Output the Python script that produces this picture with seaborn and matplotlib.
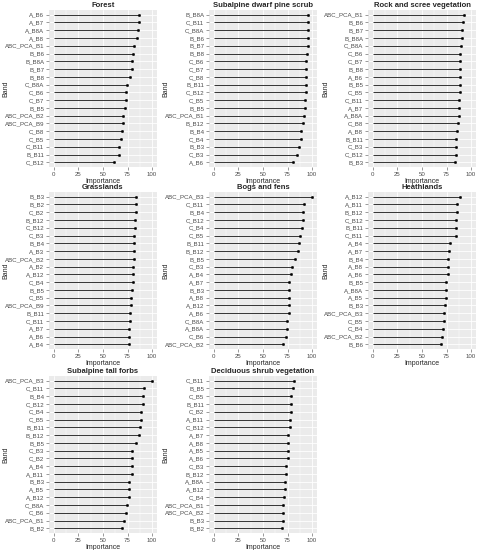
import matplotlib
matplotlib.use("Agg")
import matplotlib.pyplot as plt
import seaborn as sns
import pandas as pd
from matplotlib.ticker import MultipleLocator

titles = ["Forest", "Subalpine dwarf pine scrub", "Rock and scree vegetation",
          "Grasslands", "Bogs and fens", "Heathlands",
          "Subalpine tall forbs", "Deciduous shrub vegetation"]

forest_bands = ["A_B6", "A_B7", "A_B8A", "A_B8", "ABC_PCA_B1", "B_B6", "B_B8A", "B_B7", "B_B8", "C_B8A",
                "C_B6", "C_B7", "B_B5", "ABC_PCA_B2", "ABC_PCA_B9", "C_B8", "C_B5", "C_B11", "B_B11", "C_B12"]
forest_vals = [87, 87, 86, 85, 82, 81, 80, 79.5, 77, 74.5, 73, 73, 72, 70.5, 70.5, 69, 68, 66, 66, 61]

dwarf_bands = ["B_B8A", "C_B11", "C_B8A", "B_B6", "B_B7", "B_B8", "C_B6", "C_B7", "C_B8", "B_B11",
               "C_B12", "C_B5", "B_B5", "ABC_PCA_B1", "B_B12", "B_B4", "C_B4", "B_B3", "C_B3", "A_B6"]
dwarf_vals = [96, 96, 95.5, 96, 95.5, 95, 94, 94, 94, 94, 93.5, 93, 92.5, 92, 91, 89, 89, 87, 85, 81]

rock_bands = ["ABC_PCA_B1", "B_B6", "B_B7", "B_B8A", "C_B8A", "C_B6", "C_B7", "B_B8", "A_B6", "B_B5",
              "C_B5", "C_B11", "A_B7", "A_B8A", "C_B8", "A_B8", "B_B11", "C_B3", "C_B12", "B_B3"]
rock_vals = [92.7, 91.7, 91, 90.7, 89.3, 89, 89, 88.7, 88.3, 88.3, 88.3, 88, 87.7, 87.3, 86.3, 86, 85,
             84.3, 84.3, 83.3]

grass_bands = ["B_B3", "B_B2", "C_B2", "B_B12", "C_B12", "C_B3", "B_B4", "A_B3", "ABC_PCA_B2", "A_B2",
               "A_B12", "C_B4", "B_B5", "C_B5", "ABC_PCA_B9", "B_B11", "C_B11", "A_B7", "A_B6", "A_B4"]
grass_vals = [84, 83.5, 83.5, 83, 83, 82, 82, 81.5, 81.5, 81, 81, 81, 80, 78.5, 78.5, 77.5, 77, 76.5, 76, 76]

bogs_bands = ["ABC_PCA_B3", "C_B11", "B_B4", "C_B12", "C_B4", "C_B5", "B_B11", "B_B12", "B_B5", "C_B3",
              "A_B4", "A_B7", "B_B3", "A_B8", "A_B12", "A_B6", "C_B8A", "A_B8A", "C_B6", "ABC_PCA_B2"]
bogs_vals = [100, 92, 91, 90.3, 89.3, 88, 87, 85.6, 83, 80, 79, 76.3, 76.3, 76.3, 76.3, 76.3, 74.6, 74,
             73.2, 70.6]

heath_bands = ["A_B12", "A_B11", "B_B12", "C_B12", "B_B11", "C_B11", "A_B4", "A_B7", "B_B4", "A_B8",
               "A_B6", "B_B5", "A_B8A", "A_B5", "B_B3", "ABC_PCA_B3", "C_B5", "C_B4", "ABC_PCA_B2", "B_B6"]
heath_vals = [89, 86, 86, 85, 85, 85, 79, 77, 76.4, 76.4, 76.4, 74.7, 74, 74, 73.7, 72.7, 72.4, 71.4,
              70.7, 69.7]

forbs_bands = ["ABC_PCA_B3", "C_B11", "B_B4", "C_B12", "C_B4", "C_B5", "B_B11", "B_B12", "B_B5", "C_B3",
               "C_B2", "A_B4", "A_B11", "B_B3", "A_B5", "A_B12", "C_B8A", "C_B6", "ABC_PCA_B1", "B_B2"]
forbs_vals = [100, 92, 91, 90.6, 89.2, 88.2, 87.2, 86.2, 83.2, 80, 79.5, 79.5, 79.5, 76.8, 76.4, 76.4,
              74.7, 73, 71, 69.4]

shrub_bands = ["C_B11", "B_B5", "C_B5", "B_B11", "C_B2", "A_B11", "C_B12", "A_B7", "A_B8", "A_B5",
               "A_B6", "C_B3", "B_B12", "A_B8A", "A_B12", "C_B4", "ABC_PCA_B1", "ABC_PCA_B2", "B_B3", "B_B2"]
shrub_vals = [81.6, 80.6, 78.6, 78.6, 78.6, 78, 77.3, 75.6, 75.6, 75.6, 75.6, 73, 73, 72.6, 72.6, 71.6,
              70.6, 70.2, 70, 69.2]

xticks = [0, 25, 50, 75, 100]

panels = [
    (forest_bands, forest_vals), (dwarf_bands, dwarf_vals), (rock_bands, rock_vals),
    (grass_bands, grass_vals), (bogs_bands, bogs_vals), (heath_bands, heath_vals),
    (forbs_bands, forbs_vals), (shrub_bands, shrub_vals),
]

sns.set_theme(style="darkgrid", rc={
    "axes.facecolor": "#EBEBEB",
    "grid.color": "white",
    "axes.edgecolor": "#EBEBEB",
})
plt.rcParams["font.family"] = ["Liberation Sans", "DejaVu Sans"]

W, H = 479, 550
fig = plt.figure(figsize=(W / 100, H / 100), dpi=100)

col_left = [49, 209, 368]
col_label_x = [9, 169, 329]
col_width = 108
row_top = [10, 192, 376]
row_h = 157

for i, (title, (bands, vals)) in enumerate(zip(titles, panels)):
    r, c = divmod(i, 3)
    left = col_left[c] / W
    bottom = 1 - (row_top[r] + row_h) / H
    ax = fig.add_axes([left, bottom, col_width / W, row_h / H])
    df = pd.DataFrame({"Band": bands, "Importance": vals})
    ypos = list(range(len(bands)))
    ax.hlines(ypos, 0, df["Importance"], color="#333333", lw=0.7, zorder=3)
    sns.scatterplot(data=df, x="Importance", y="Band", ax=ax, color="black", s=3,
                    edgecolor="black", linewidth=0.3, zorder=4, legend=False)
    ax.set_xlim(-5, 105)
    ax.set_ylim(len(bands) - 0.4, -0.6)
    ax.set_xticks(xticks)
    ax.xaxis.set_minor_locator(MultipleLocator(12.5))
    ax.grid(which="major", color="white", lw=0.6)
    ax.grid(which="minor", axis="x", color="white", lw=0.3)
    ax.tick_params(axis="both", which="major", labelsize=4.4, colors="#4D4D4D",
                   length=2, width=0.4, pad=1.5, left=True, bottom=True)
    ax.tick_params(axis="both", which="minor", length=0)
    ax.set_xlabel("Importance", fontsize=5, labelpad=1)
    ax.set_ylabel("Band", fontsize=5)
    ax.yaxis.set_label_coords((col_label_x[c] - col_left[c]) / col_width, 0.5)
    ax.set_title(title, fontsize=5.5, fontweight="bold", pad=2)
    for sp in ax.spines.values():
        sp.set_visible(False)

fig.savefig("out.png", dpi=100, facecolor="white")
